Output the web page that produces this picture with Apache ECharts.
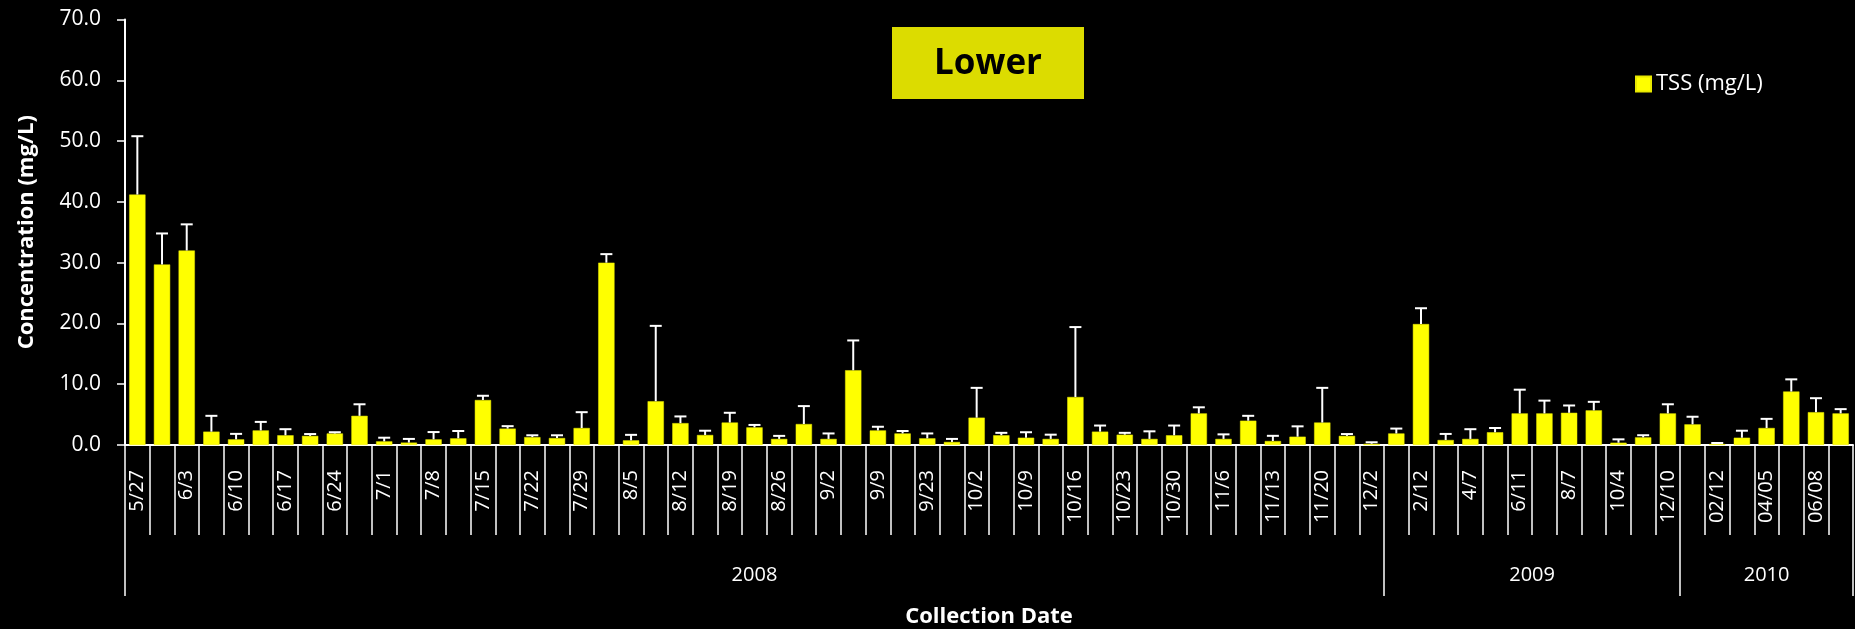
<!DOCTYPE html>
<html>
<head>
<meta charset="utf-8">
<script src="https://cdn.jsdelivr.net/npm/echarts@6/dist/echarts.min.js"></script>
<style>
html,body{margin:0;padding:0;background:#000;}
#chart{width:1855px;height:629px;}
</style>
</head>
<body>
<div id="chart"></div>
<script>
// Category labels (every other collection date is labelled on the axis)
const dateLabels = [
  '5/27','','6/3','','6/10','','6/17','','6/24','',
  '7/1','','7/8','','7/15','','7/22','','7/29','',
  '8/5','','8/12','','8/19','','8/26','','9/2','',
  '9/9','','9/23','','10/2','','10/9','','10/16','',
  '10/23','','10/30','','11/6','','11/13','','11/20','',
  '12/2',
  '','2/12','','4/7','','6/11','','8/7','','10/4','','12/10',
  '','02/12','','04/05','','06/08',''
];
// TSS mean values (mg/L)
const tssValues = [
  41.2,29.7,32.0,2.2,0.93,2.4,1.6,1.5,1.9,4.8,
  0.6,0.4,0.93,1.1,7.4,2.7,1.3,1.15,2.8,30.0,
  0.77,7.2,3.6,1.65,3.7,2.9,1.0,3.45,1.0,12.3,
  2.4,1.9,1.1,0.5,4.5,1.6,1.2,1.0,7.9,2.2,
  1.7,1.0,1.6,5.2,1.0,4.0,0.66,1.37,3.7,1.5,
  0.2,
  1.9,19.9,0.82,1.0,2.1,5.2,5.2,5.3,5.7,0.38,1.26,5.2,
  3.4,0.16,1.2,2.8,8.8,5.4,5.2
];
// Upper error bar magnitude (mg/L)
const tssErrors = [
  9.6,5.1,4.3,2.6,0.9,1.4,1.0,0.3,0.2,1.9,
  0.6,0.6,1.2,1.2,0.7,0.4,0.3,0.45,2.6,1.4,
  0.9,12.4,1.1,0.7,1.6,0.4,0.5,2.95,0.9,4.9,
  0.6,0.4,0.8,0.5,4.9,0.4,0.9,0.7,11.5,1.0,
  0.3,1.25,1.6,1.0,0.75,0.8,0.85,1.7,5.7,0.3,
  0.25,
  0.8,2.6,1.0,1.6,0.7,3.9,2.1,1.2,1.4,0.55,0.35,1.5,
  1.25,0.17,1.15,1.5,2.0,2.3,0.7
];
// Year groups: label and number of categories in each
const yearLabels = ['2008','2009','2010'];
const yearCounts = [51,12,7];

const FONT = '"Open Sans", "Noto Sans", sans-serif';
const nCat = dateLabels.length;
const yearBounds = [0];
yearCounts.forEach(c => yearBounds.push(yearBounds[yearBounds.length-1] + c));
const yearCenters = yearLabels.map((_, i) => (yearBounds[i] + yearBounds[i+1]) / 2);

const errData = tssValues.map((v, i) => [i, v, v + tssErrors[i]]);

const chart = echarts.init(document.getElementById('chart'));
chart.setOption({
  backgroundColor: '#000000',
  animation: false,
  textStyle: { fontFamily: FONT },
  grid: { left: 125, right: 2, top: 19.5, bottom: 184, containLabel: false, outerBoundsMode: 'none' },
  legend: {
    left: 1630, top: 68,
    itemWidth: 15, itemHeight: 15,
    icon: 'rect',
    data: ['TSS (mg/L)'],
    textStyle: { color: '#ffffff', fontSize: 22, fontFamily: FONT }
  },
  graphic: [{
    type: 'group', left: 892, top: 27,
    children: [
      { type: 'rect', shape: { x: 0, y: 0, width: 192, height: 72 }, style: { fill: '#DCDC00' } },
      { type: 'text', x: 96, y: 37, style: { text: 'Lower', fill: '#000000', font: 'bold 35px ' + FONT, align: 'center', verticalAlign: 'middle' } }
    ]
  }],
  xAxis: [{
    type: 'category',
    data: dateLabels,
    boundaryGap: true,
    axisLine: { show: true, lineStyle: { color: '#ffffff', width: 2 } },
    axisTick: { show: true, interval: 0, length: 90, lineStyle: { color: '#ffffff', width: 1.5 } },
    axisLabel: { interval: 0, rotate: 90, color: '#ffffff', fontSize: 20, fontFamily: FONT, margin: 25 },
    splitLine: { show: false }
  }, {
    type: 'value',
    min: 0, max: nCat,
    position: 'bottom',
    name: 'Collection Date',
    nameLocation: 'middle',
    nameGap: 161,
    nameTextStyle: { color: '#ffffff', fontSize: 22, fontWeight: 'bold', fontFamily: FONT },
    axisLine: { show: false },
    axisTick: { show: true, customValues: yearBounds, length: 151, lineStyle: { color: '#ffffff', width: 1.5 } },
    axisLabel: {
      show: true, customValues: yearCenters, color: '#ffffff', fontSize: 20, fontFamily: FONT, margin: 120,
      formatter: v => { const i = yearCenters.indexOf(v); return i >= 0 ? yearLabels[i] : ''; }
    },
    splitLine: { show: false }
  }],
  yAxis: {
    type: 'value',
    min: 0, max: 70, interval: 10,
    name: 'Concentration (mg/L)',
    nameLocation: 'middle',
    nameRotate: 90,
    nameGap: 87,
    nameTextStyle: { color: '#ffffff', fontSize: 22, fontWeight: 'bold', fontFamily: FONT },
    axisLine: { show: true, lineStyle: { color: '#ffffff', width: 2 } },
    axisTick: { show: true, length: 8, lineStyle: { color: '#ffffff', width: 1.5 } },
    axisLabel: { color: '#ffffff', fontSize: 21, fontFamily: FONT, margin: 24, formatter: v => v.toFixed(1) },
    splitLine: { show: false }
  },
  series: [{
    name: 'TSS (mg/L)',
    type: 'bar',
    xAxisIndex: 0,
    data: tssValues,
    barWidth: '66%',
    itemStyle: { color: '#FFFF00', borderColor: '#E8E800', borderWidth: 0.5 }
  }, {
    name: 'err',
    type: 'custom',
    xAxisIndex: 0,
    data: errData,
    encode: { x: 0, y: [1, 2] },
    z: 3,
    renderItem: (params, api) => {
      const base = api.coord([api.value(0), api.value(1)]);
      const top = api.coord([api.value(0), api.value(2)]);
      const hw = 6;
      const st = { stroke: '#ffffff', lineWidth: 2 };
      return {
        type: 'group',
        children: [
          { type: 'line', shape: { x1: base[0], y1: base[1], x2: top[0], y2: top[1] }, style: st },
          { type: 'line', shape: { x1: top[0] - hw, y1: top[1], x2: top[0] + hw, y2: top[1] }, style: st }
        ]
      };
    }
  }]
});
</script>
</body>
</html>
